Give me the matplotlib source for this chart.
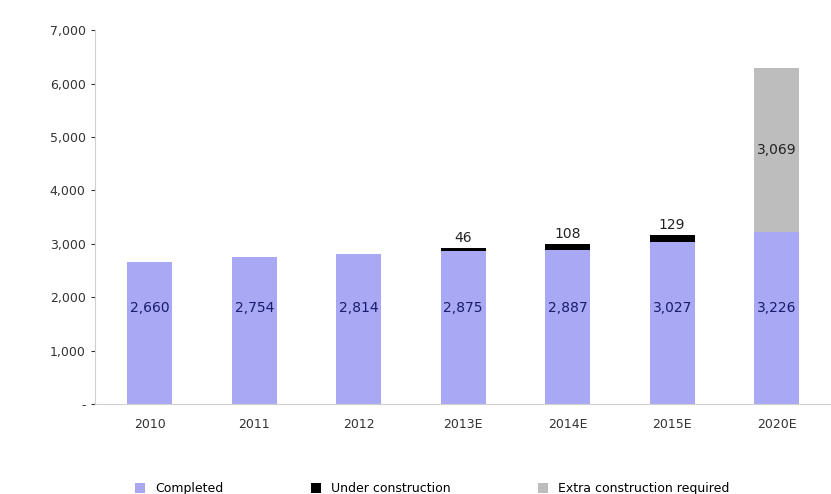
import numpy as np
import matplotlib
matplotlib.use("Agg")
import matplotlib.pyplot as plt
from matplotlib.ticker import FuncFormatter

years = ["2010", "2011", "2012", "2013E", "2014E", "2015E", "2020E"]
completed = [2660, 2754, 2814, 2875, 2887, 3027, 3226]
under_construction = [0, 0, 0, 46, 108, 129, 0]
extra_required = [0, 0, 0, 0, 0, 0, 3069]

c_done = "#a8a8f4"
c_build = "#000000"
c_extra = "#bdbdbd"

fig = plt.figure(figsize=(8.31, 4.94), dpi=100)
ax = fig.add_axes([0.114, 0.182, 0.886, 0.757])

x = np.arange(len(years))
w = 0.43
done = np.array(completed)
build = np.array(under_construction)
extra = np.array(extra_required)

ax.bar(x, done, w, color=c_done, label="Completed")
ax.bar(x, build, w, bottom=done, color=c_build, label="Under construction")
ax.bar(x, extra, w, bottom=done + build, color=c_extra, label="Extra construction required")

# etiquetas de datos
for i in range(len(years)):
    ax.text(x[i], 1800, f"{completed[i]:,}", ha="center", va="center",
            fontsize=10, color="#1a1a6e")
    if build[i] > 0:
        ax.text(x[i], done[i] + build[i] + 60, f"{build[i]:,}", ha="center",
                va="bottom", fontsize=10, color="#222222")
    if extra[i] > 0:
        ax.text(x[i], done[i] + build[i] + extra[i] / 2, f"{extra[i]:,}",
                ha="center", va="center", fontsize=10, color="#222222")

ax.set_ylim(0, 7000)
ax.set_xlim(-0.526, 6.52)
ax.set_yticks(range(0, 7001, 1000))
ax.yaxis.set_major_formatter(FuncFormatter(lambda v, p: "-" if v == 0 else f"{int(v):,}"))
ax.set_xticks(x)
ax.set_xticklabels(years)
ax.tick_params(axis="both", labelsize=9, colors="#333333", length=3)
ax.tick_params(axis="x", length=0, pad=10)
for s in ["top", "right"]:
    ax.spines[s].set_visible(False)
ax.spines["left"].set_color("#d0d0d0")
ax.spines["bottom"].set_color("#d0d0d0")

fig.legend(loc="lower center", ncol=3, frameon=False, fontsize=9,
           bbox_to_anchor=(0.52, -0.025), handlelength=0.8, handleheight=0.8,
           columnspacing=7)

fig.savefig("out.png", dpi=100, facecolor="white")
